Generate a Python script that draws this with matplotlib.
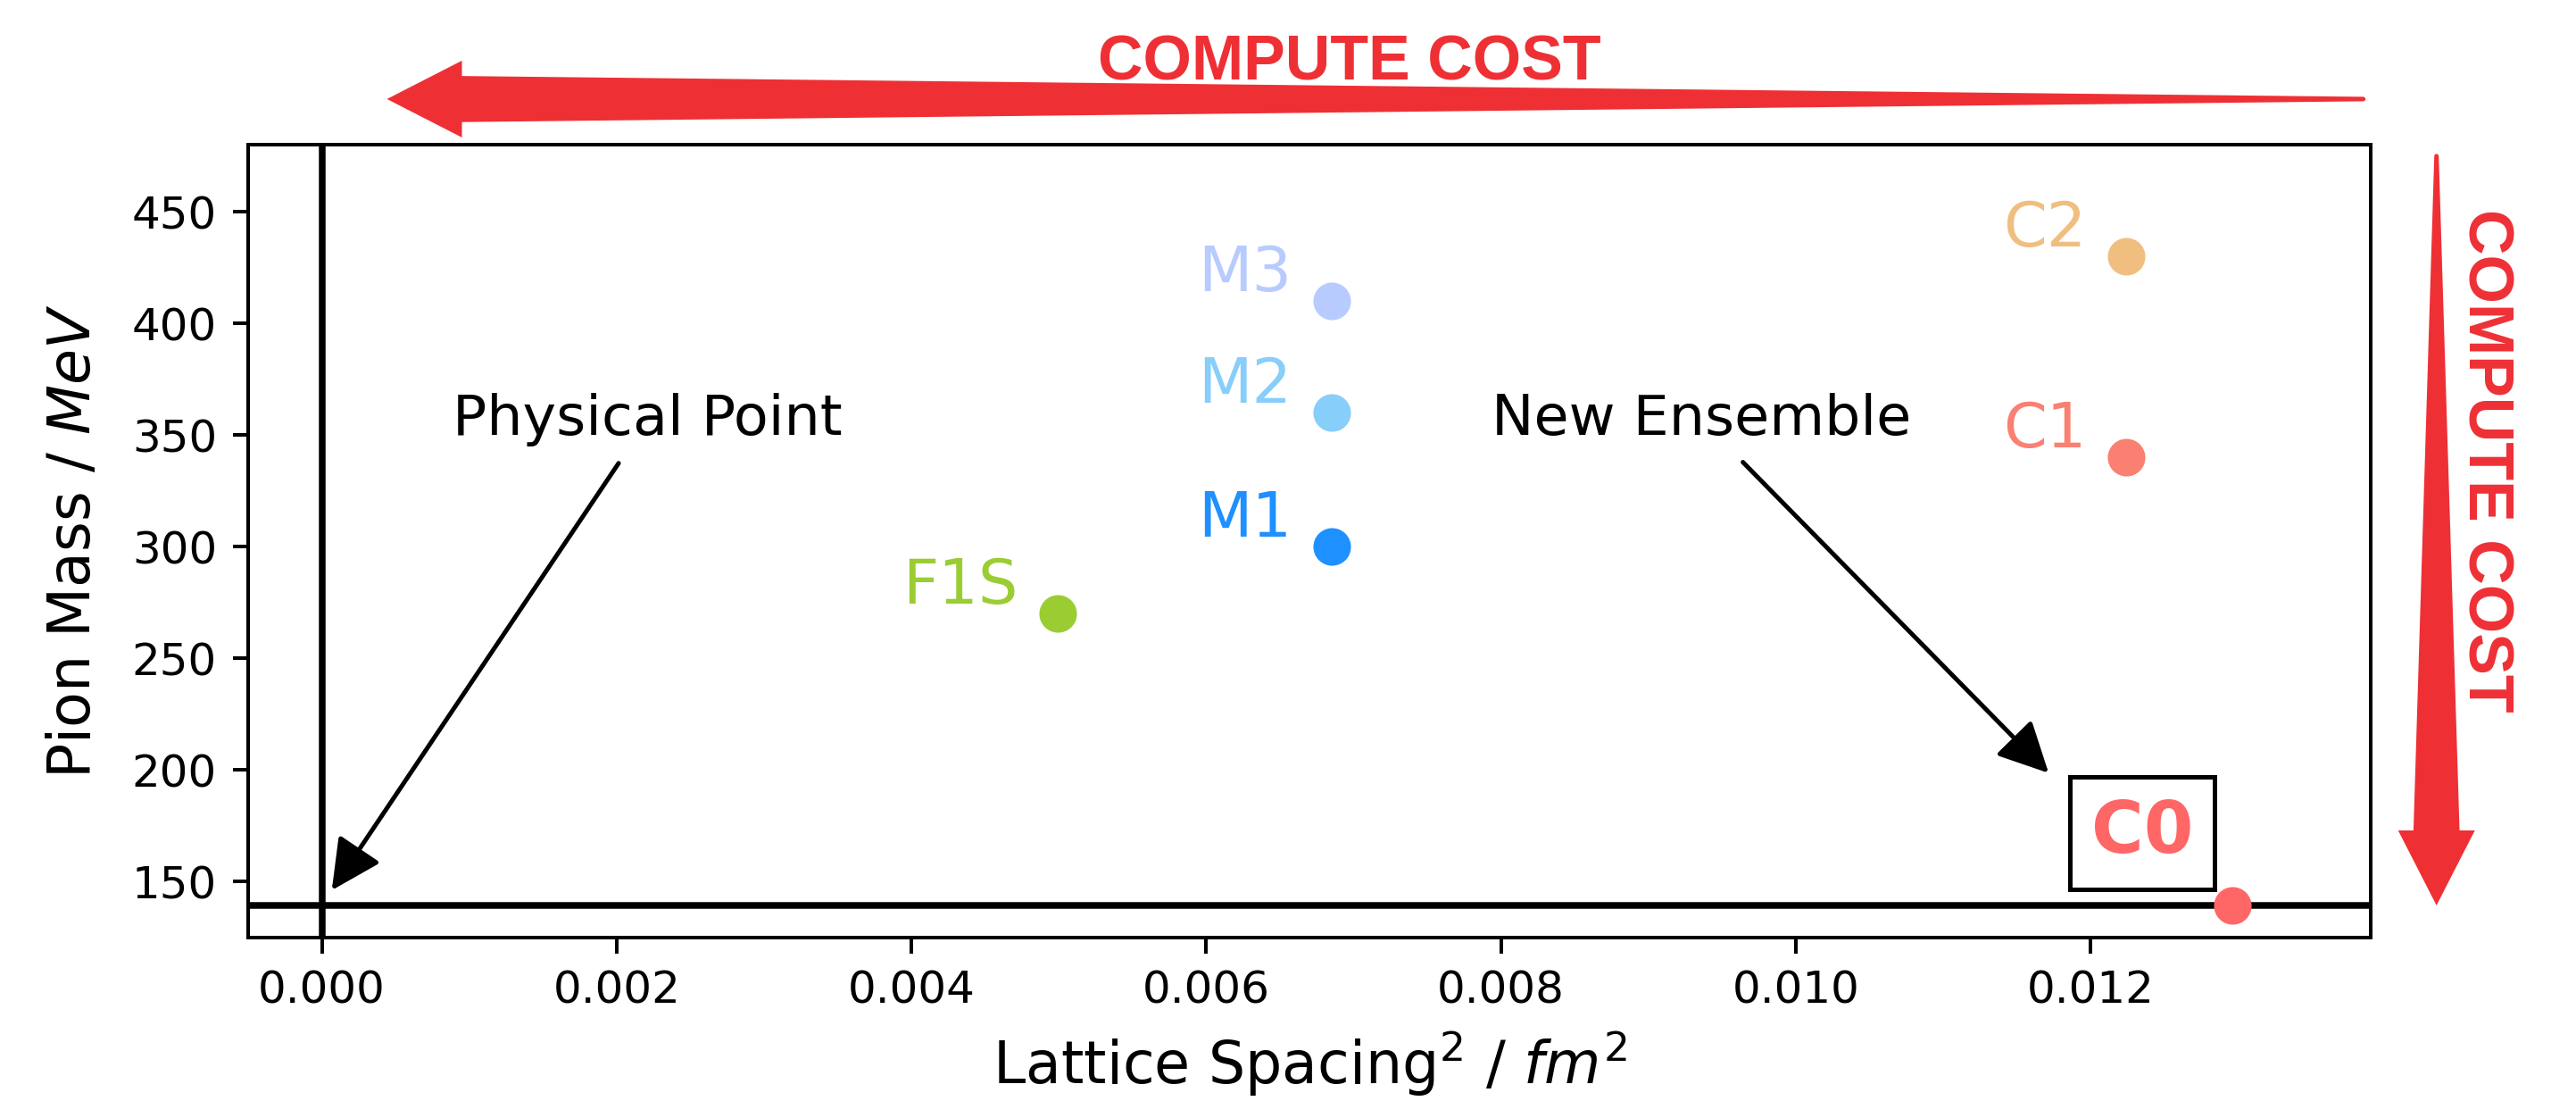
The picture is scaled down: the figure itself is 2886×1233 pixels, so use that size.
import matplotlib
matplotlib.use("Agg")
import matplotlib.pyplot as plt

# ensembles: lattice spacing^2 (fm^2) and pion mass (MeV)
names = ["F1S", "M1", "M2", "M3", "C1", "C2"]
a2 = [0.00499, 0.00685, 0.00685, 0.00685, 0.01224, 0.01224]
mpi = [270, 300, 360, 410, 340, 430]
colors = ["#9ACD32", "#1E90FF", "#87CEFA", "#B8CBFF", "#FA8072", "#F0BF80"]

new_name = "C0"
new_a2 = 0.01296
new_mpi = 139.57
new_color = "#FF6666"

phys_mpi = 139.57
red = "#EE3035"

fig = plt.figure(figsize=(2886 / 360, 1233 / 360), dpi=360)
ax = fig.add_axes([278 / 2886, 1 - 1050 / 1233, 2378 / 2886, 887.6 / 1233])

ax.axhline(phys_mpi, color="k", lw=1.5, zorder=1)
ax.axvline(0, color="k", lw=1.5, zorder=1)

for n, x, y, c in zip(names, a2, mpi, colors):
    ax.scatter(x, y, s=55, color=c, zorder=3)
    ax.text(x - 0.00027, y + 4.5, n, color=c, fontsize=14, ha="right", va="baseline")

ax.scatter(new_a2, new_mpi, s=55, color=new_color, zorder=3)
ax.text(0.01235, 163, new_name, color=new_color, fontsize=16, fontweight="bold",
        ha="center", va="baseline",
        bbox=dict(boxstyle="square,pad=0.3", fc="white", ec="black", lw=1.0))

ax.annotate("Physical Point", xy=(0, phys_mpi), xytext=(0.00221, 350),
            fontsize=12.7, ha="center", va="baseline",
            arrowprops=dict(arrowstyle="-|>", mutation_scale=24, color="k",
                            lw=1.0, shrinkB=4))
ax.annotate("New Ensemble", xy=(0.0118, 193), xytext=(0.00936, 350),
            fontsize=12.7, ha="center", va="baseline",
            arrowprops=dict(arrowstyle="-|>", mutation_scale=24, color="k",
                            lw=1.0, shrinkB=4))


def cost_arrow(tail, base, tip):
    # tapered tail (wedge) + triangular head
    ax.annotate("", xy=tail, xytext=base, xycoords="axes fraction",
                annotation_clip=False,
                arrowprops=dict(arrowstyle="wedge,tail_width=0.47,shrink_factor=0.5",
                                mutation_scale=20, color=red, lw=1,
                                shrinkA=0, shrinkB=0))
    ax.annotate("", xy=tip, xytext=base, xycoords="axes fraction",
                annotation_clip=False,
                arrowprops=dict(arrowstyle="simple,head_length=0.84,head_width=0.86,tail_width=0.3",
                                mutation_scale=20, color=red, lw=0,
                                shrinkA=0, shrinkB=0))


# compute cost arrows outside the axes
cost_arrow((0.9965, 1.058), (0.092, 1.058), (0.0654, 1.058))
ax.text(0.519, 1.1024, "COMPUTE COST", transform=ax.transAxes, color=red,
        fontsize=14, fontweight="bold", family="Liberation Sans",
        ha="center", va="center")
cost_arrow((1.031, 0.986), (1.031, 0.128), (1.031, 0.0406))
ax.text(1.0538, 0.6016, "COMPUTE COST", transform=ax.transAxes, color=red,
        fontsize=14, fontweight="bold", family="Liberation Sans",
        rotation=270, ha="center", va="center")

ax.set_xlim(-0.0005, 0.0139)
ax.set_ylim(125, 480)
ax.set_xticks([0, 0.002, 0.004, 0.006, 0.008, 0.010, 0.012])
ax.set_yticks([150, 200, 250, 300, 350, 400, 450])
ax.set_xlabel("Lattice Spacing$^2$ / $fm^2$", fontsize=13)
ax.set_ylabel("Pion Mass / $MeV$", fontsize=13, labelpad=6.5)

fig.savefig("out.png", dpi=360)
